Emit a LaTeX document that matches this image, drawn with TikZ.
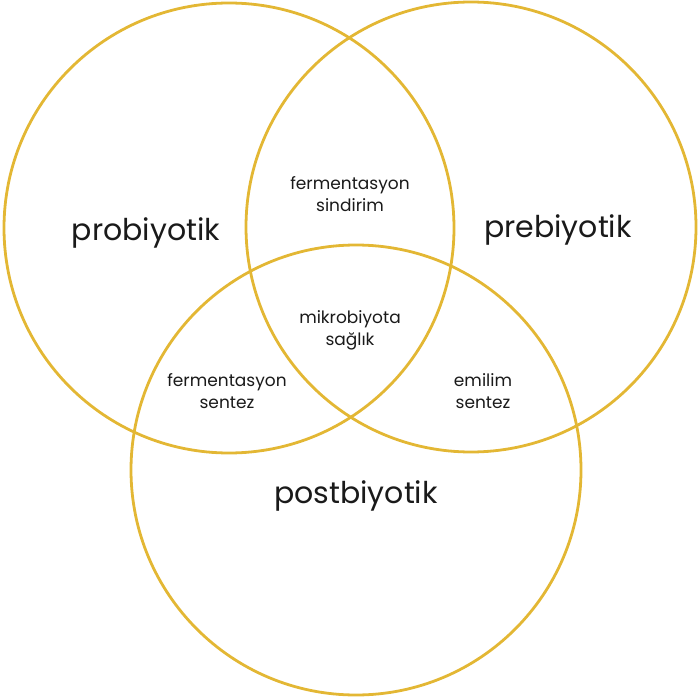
\documentclass[tikz,border=0pt]{standalone}
\usepackage{fontspec}
\setmainfont{Poppins}
\usetikzlibrary{positioning}

\definecolor{altin}{HTML}{E3B734}
\definecolor{yazi}{HTML}{1A1A1A}

\begin{document}
\begin{tikzpicture}[x=1pt, y=-1pt,
    halka/.style={draw=altin, line width=2.8pt, circle, minimum size=450pt, inner sep=0pt},
    buyuk/.style={text=yazi, font=\fontsize{30}{34}\selectfont},
    kucuk/.style={text=yazi, align=center, font=\fontsize{17}{22}\selectfont}]
    \useasboundingbox (0,0) rectangle (700,700);

    % Draw halkalar
    \node[halka] (pro) at (229,228) {};
    \node[halka] (pre) at (471,227) {};
    \node[halka] (post) at (356,470) {};

    % Labels (halka adlari)
    \node[buyuk] (proad) at (146,233) {probiyotik};
    \node[buyuk] (pread) at (558,230) {prebiyotik};
    \node[buyuk] (postad) at (356,496) {postbiyotik};

    % Labels (kesisimler)
    \node[kucuk] (ustkes) at (350,194) {fermentasyon\\sindirim};
    \node[kucuk] (orta) at (350,330) {mikrobiyota\\sağlık};
    \node[kucuk] (solkes) at (227,391) {fermentasyon\\sentez};
    \node[kucuk] (sagkes) at (483,391) {emilim\\sentez};

\end{tikzpicture}
\end{document}
